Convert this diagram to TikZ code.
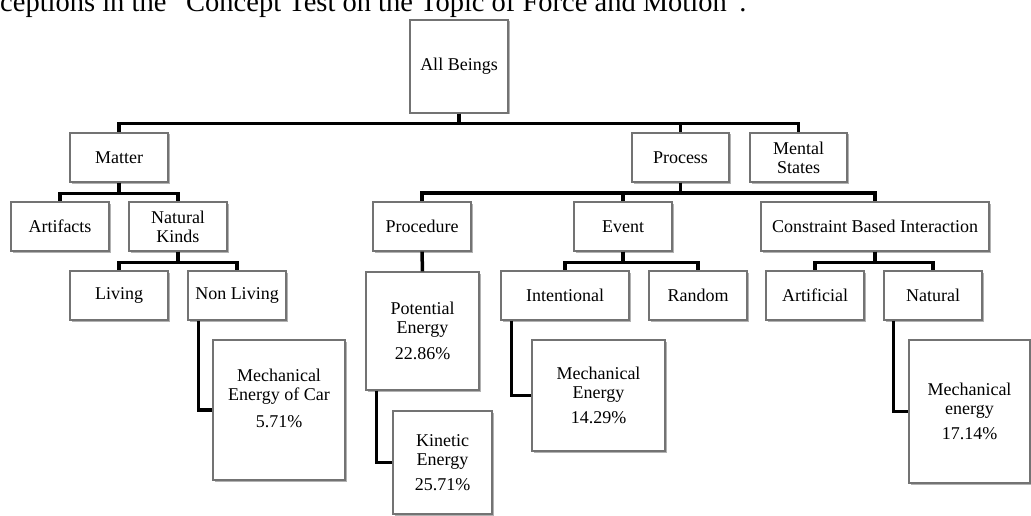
\documentclass[tikz,border=0pt]{standalone}
\usepackage{fontspec}
\setmainfont{Liberation Serif}
\usetikzlibrary{shapes,arrows,shadows}

\tikzset{
  cell/.style={draw=black!55, line width=1.2pt, fill=white, align=center,
    font=\fontsize{18}{19}\selectfont, inner sep=2pt,
    drop shadow={shadow xshift=1.5pt, shadow yshift=-1.5pt, opacity=0.3, fill=black}},
  link/.style={line width=3.5pt, black}
}

\begin{document}
\begin{tikzpicture}[x=1pt,y=-1pt]
\useasboundingbox (0,0) rectangle (1031,516);
\clip (0,0) rectangle (1031,516);
\fill[white] (0,0) rectangle (1031,516);

\node[anchor=base west, inner sep=0pt, font=\fontsize{28.5}{30}\selectfont] (caption) at (0,12) {ceptions in the “Concept Test on the Topic of Force and Motion”.};

% first levels
\node[cell, minimum width=98pt, minimum height=93pt] (allb) at (459,66.5) {All Beings};
\node[cell, minimum width=98pt, minimum height=49pt] (matter) at (119,157.5) {Matter};
\node[cell, minimum width=97pt, minimum height=49pt] (process) at (680.5,157.5) {Process};
\node[cell, minimum width=97pt, minimum height=49pt] (mental) at (798.5,157.5) {Mental\\States};

\node[cell, minimum width=98pt, minimum height=49pt] (artifacts) at (60,226.5) {Artifacts};
\node[cell, minimum width=98pt, minimum height=49pt] (natkinds) at (178,226.5) {Natural\\Kinds};
\node[cell, minimum width=98pt, minimum height=49pt] (procedure) at (422,226.5) {Procedure};
\node[cell, minimum width=98pt, minimum height=49pt] (event) at (623,226.5) {Event};
\node[cell, minimum width=228pt, minimum height=49pt] (cbi) at (875,226.5) {Constraint Based Interaction};

\node[cell, minimum width=98pt, minimum height=49pt] (living) at (119,295.5) {Living};
\node[cell, minimum width=98pt, minimum height=49pt] (nonliving) at (237,295.5) {Non Living};
\node[cell, minimum width=128pt, minimum height=49pt] (intentional) at (565,295.5) {Intentional};
\node[cell, minimum width=98pt, minimum height=49pt] (random) at (698,295.5) {Random};
\node[cell, minimum width=98pt, minimum height=49pt] (artificial) at (815,295.5) {Artificial};
\node[cell, minimum width=98pt, minimum height=49pt] (natural) at (933,295.5) {Natural};

% energy boxes
\node[cell, minimum width=113pt, minimum height=118pt] (potential) at (422.5,331) {Potential\\Energy\\[7pt]22.86\%};
\node[cell, minimum width=99pt, minimum height=103pt] (kinetic) at (442.5,462.5) {Kinetic\\Energy\\[6pt]25.71\%};
\node[cell, minimum width=132pt, minimum height=140pt] (mechcar) at (279,410) {Mechanical\\Energy of Car\\[8pt]5.71\%\\[5pt]\mbox{}};
\node[cell, minimum width=133pt, minimum height=111pt] (mechint) at (598.5,395.5) {Mechanical\\Energy\\[6pt]14.29\%};
\node[cell, minimum width=121pt, minimum height=143pt] (mechnat) at (969.5,411.5) {Mechanical\\energy\\[6pt]17.14\%};

% tree links
\draw[link] (allb.south) -- ++(0,10) -| (matter.north);
\draw[link] (allb.south) -- ++(0,10) -| (process.north);
\draw[link] (allb.south) -- ++(0,10) -| (mental.north);

\draw[link] (matter.south) -- ++(0,11) -| (artifacts.north);
\draw[link] (matter.south) -- ++(0,11) -| (natkinds.north);

\draw[link] (process.south) -- ++(0,10.5) -| (procedure.north);
\draw[link] (process.south) -- ++(0,10.5) -| (event.north);
\draw[link] (process.south) -- ++(0,10.5) -| (cbi.north);

\draw[link] (natkinds.south) -- ++(0,11) -| (living.north);
\draw[link] (natkinds.south) -- ++(0,11) -| (nonliving.north);
\draw[link] (event.south) -- ++(0,11) -| (intentional.north);
\draw[link] (event.south) -- ++(0,11) -| (random.north);
\draw[link] (cbi.south) -- ++(0,11) -| (artificial.north);
\draw[link] (cbi.south) -- ++(0,11) -| (natural.north);

\draw[link] (procedure.south) -- (potential.north);
\draw[link] ([xshift=11pt]nonliving.south west) |- (mechcar.west);
\draw[link] ([xshift=11pt]potential.south west) |- (kinetic.west);
\draw[link] ([xshift=11pt]intentional.south west) |- (mechint.west);
\draw[link] ([xshift=10pt]natural.south west) |- (mechnat.west);

\end{tikzpicture}
\end{document}
